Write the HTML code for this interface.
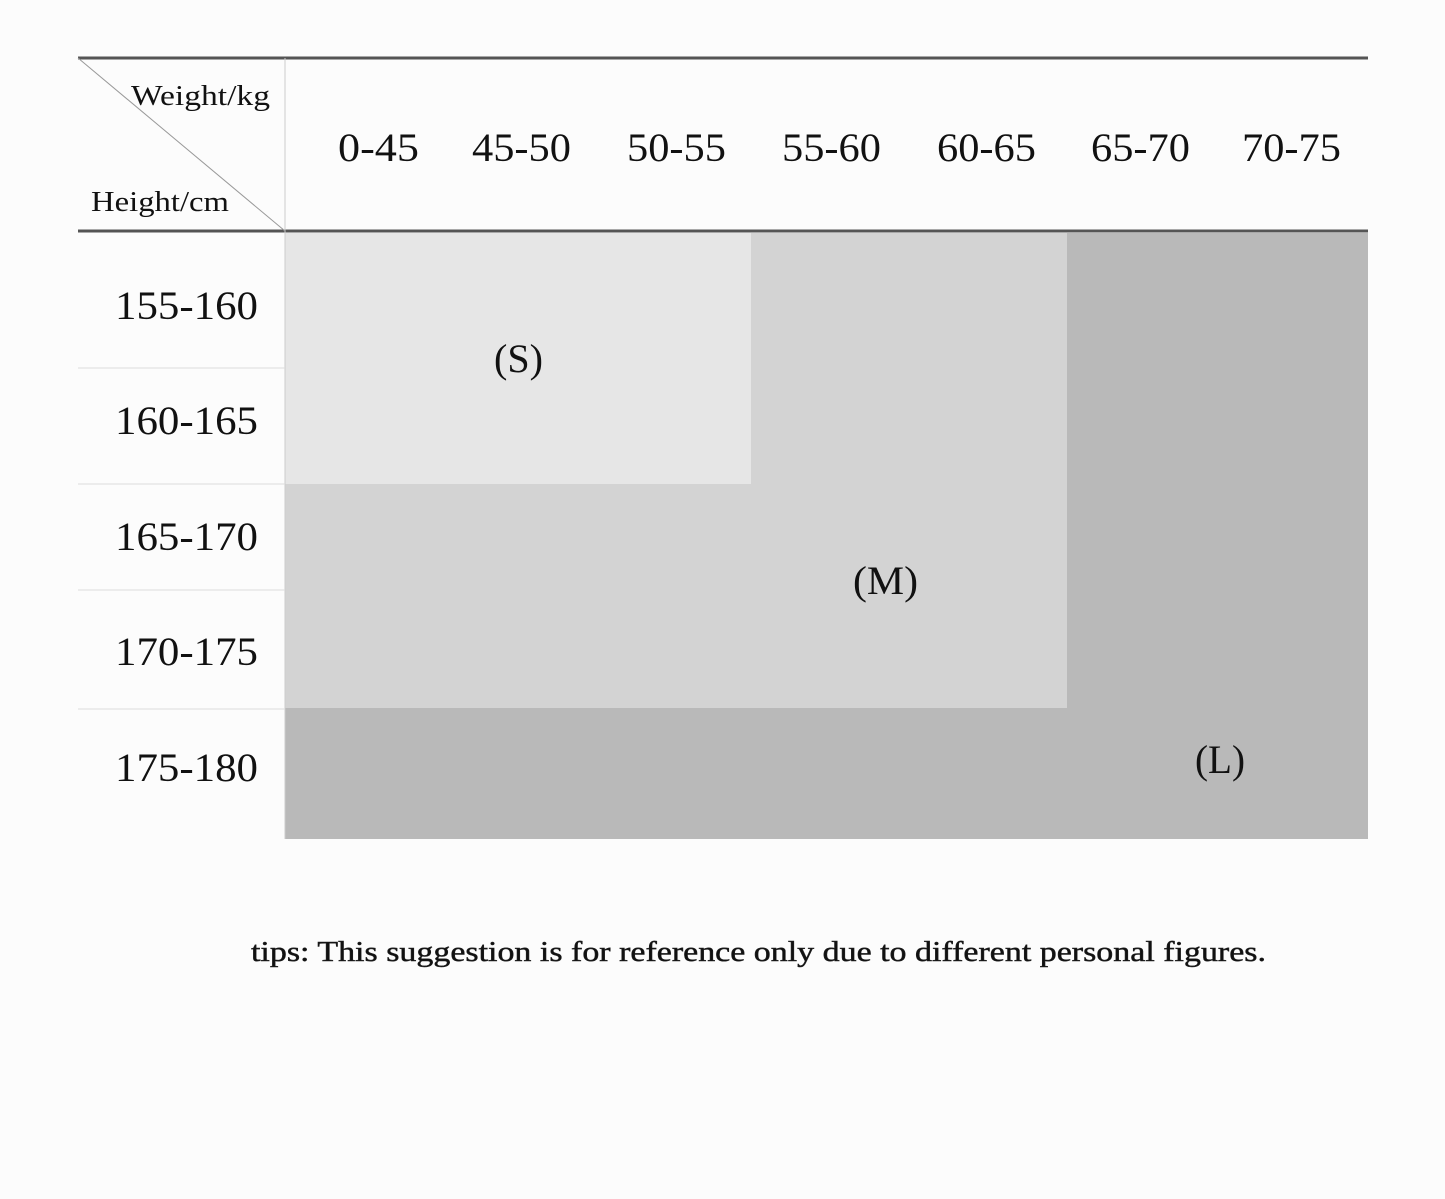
<!DOCTYPE html>
<html><head><meta charset="utf-8"><style>
html,body{margin:0;padding:0;background:#fcfcfc;}
svg{display:block;}
text{font-family:"Liberation Serif",serif;fill:#111;}
</style></head><body>
<svg width="1445" height="1199" viewBox="0 0 1445 1199">
<rect width="1445" height="1199" fill="#fcfcfc"/>
<rect x="285" y="233" width="1083" height="606" fill="#b9b9b9"/>
<rect x="285" y="233" width="782" height="475" fill="#d3d3d3"/>
<rect x="285" y="233" width="466" height="251" fill="#e6e6e6"/>
<line x1="78" y1="58" x2="1368" y2="58" stroke="#555" stroke-width="3"/>
<line x1="78" y1="231" x2="1368" y2="231" stroke="#555" stroke-width="3"/>
<line x1="285" y1="58" x2="285" y2="839" stroke="#ccc" stroke-width="1"/>
<line x1="78" y1="58" x2="285" y2="231" stroke="#999" stroke-width="1"/>
<line x1="78" y1="368" x2="285" y2="368" stroke="#ddd"/>
<line x1="78" y1="484" x2="285" y2="484" stroke="#ddd"/>
<line x1="78" y1="590" x2="285" y2="590" stroke="#ddd"/>
<line x1="78" y1="709" x2="285" y2="709" stroke="#ddd"/>
<text x="131" y="105" font-size="28" textLength="139" lengthAdjust="spacingAndGlyphs">Weight/kg</text>
<text x="91" y="211" font-size="28" textLength="138" lengthAdjust="spacingAndGlyphs">Height/cm</text>
<g font-size="40" lengthAdjust="spacingAndGlyphs">
<text x="338" y="161" textLength="81" lengthAdjust="spacingAndGlyphs">0-45</text>
<text x="472" y="161" textLength="99" lengthAdjust="spacingAndGlyphs">45-50</text>
<text x="627" y="161" textLength="99" lengthAdjust="spacingAndGlyphs">50-55</text>
<text x="782" y="161" textLength="99" lengthAdjust="spacingAndGlyphs">55-60</text>
<text x="937" y="161" textLength="99" lengthAdjust="spacingAndGlyphs">60-65</text>
<text x="1091" y="161" textLength="99" lengthAdjust="spacingAndGlyphs">65-70</text>
<text x="1242" y="161" textLength="99" lengthAdjust="spacingAndGlyphs">70-75</text>
<text x="115" y="319" textLength="143" lengthAdjust="spacingAndGlyphs">155-160</text>
<text x="115" y="434" textLength="143" lengthAdjust="spacingAndGlyphs">160-165</text>
<text x="115" y="550" textLength="143" lengthAdjust="spacingAndGlyphs">165-170</text>
<text x="115" y="665" textLength="143" lengthAdjust="spacingAndGlyphs">170-175</text>
<text x="115" y="781" textLength="143" lengthAdjust="spacingAndGlyphs">175-180</text>
<text x="494" y="372" textLength="49" lengthAdjust="spacingAndGlyphs">(S)</text>
<text x="853" y="594" textLength="65" lengthAdjust="spacingAndGlyphs">(M)</text>
<text x="1195" y="773" textLength="50" lengthAdjust="spacingAndGlyphs">(L)</text>
</g>
<text x="251" y="961" font-size="29" fill="#222" stroke="#222" stroke-width="0.5" textLength="1015" lengthAdjust="spacingAndGlyphs">tips: This suggestion is for reference only due to different personal figures.</text>
</svg>
</body></html>
